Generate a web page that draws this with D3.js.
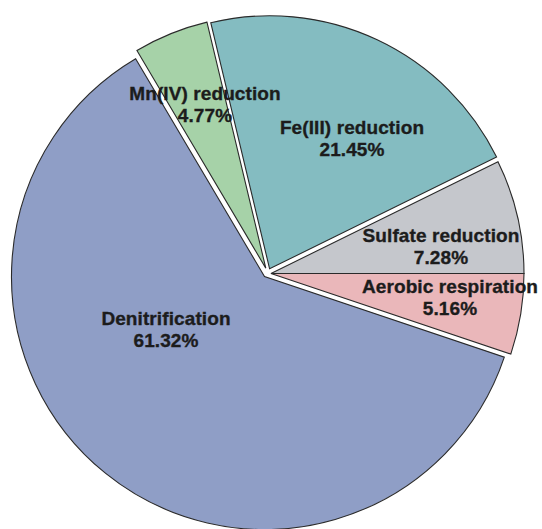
<!DOCTYPE html>
<html>
<head>
<meta charset="utf-8">
<script src="https://cdn.jsdelivr.net/npm/d3@7"></script>
<style>
  html, body { margin: 0; padding: 0; background: #fff; }
  svg { display: block; }
  text { font-family: "Liberation Sans", Arial, Helvetica, sans-serif; font-weight: bold; }
</style>
</head>
<body>
<script>
// Share of organic-matter oxidation by electron-accepting pathway
const pathways = ["Aerobic respiration", "Denitrification", "Mn(IV) reduction", "Fe(III) reduction", "Sulfate reduction"];
const shares = [5.16, 61.32, 4.77, 21.45, 7.28];
const colors = ["#eab7ba", "#8f9ec6", "#a6d2a8", "#84bcc1", "#c5c7cc"];

// Per-slice translation (px) that pulls wedges apart
const offsets = [[3, 1.5], [-3.5, 4.5], [-2.2, -3.8], [1.6, -3.2], [3, 1.5]];
// Label anchors (centre x, first baseline y)
const labelPos = [[450, 293], [166, 325], [205, 100], [352, 134], [441, 242]];

const width = 542, height = 529;
const cx = 268, cy = 272, radius = 253;

const svg = d3.select("body").append("svg")
  .attr("width", width).attr("height", height);

const rows = pathways.map((name, i) => ({ name, value: shares[i], i }));

const pie = d3.pie()
  .value(d => d.value)
  .sort(null)
  .startAngle(Math.PI / 2)
  .endAngle(Math.PI / 2 + 2 * Math.PI);

const arc = d3.arc().innerRadius(0).outerRadius(radius);

const g = svg.append("g").attr("transform", `translate(${cx},${cy})`);

g.selectAll("path.slice")
  .data(pie(rows))
  .join("path")
  .attr("class", "slice")
  .attr("transform", d => `translate(${offsets[d.data.i][0]},${offsets[d.data.i][1]})`)
  .attr("d", arc)
  .attr("fill", d => colors[d.data.i])
  .attr("stroke", "#2a2a2a")
  .attr("stroke-width", 1.1)
  .attr("stroke-linejoin", "miter");

const labels = svg.selectAll("text.lbl")
  .data(rows)
  .join("text")
  .attr("class", "lbl")
  .attr("text-anchor", "middle")
  .attr("font-size", 19)
  .attr("fill", "#1c1c1c")
  .attr("stroke", "#1c1c1c")
  .attr("stroke-width", 0.35)
  .attr("letter-spacing", "0.1px");

labels.append("tspan")
  .attr("x", d => labelPos[d.i][0])
  .attr("y", d => labelPos[d.i][1])
  .text(d => d.name);

labels.append("tspan")
  .attr("x", d => labelPos[d.i][0])
  .attr("y", d => labelPos[d.i][1] + 22)
  .text(d => d.value.toFixed(2) + "%");
</script>
</body>
</html>
